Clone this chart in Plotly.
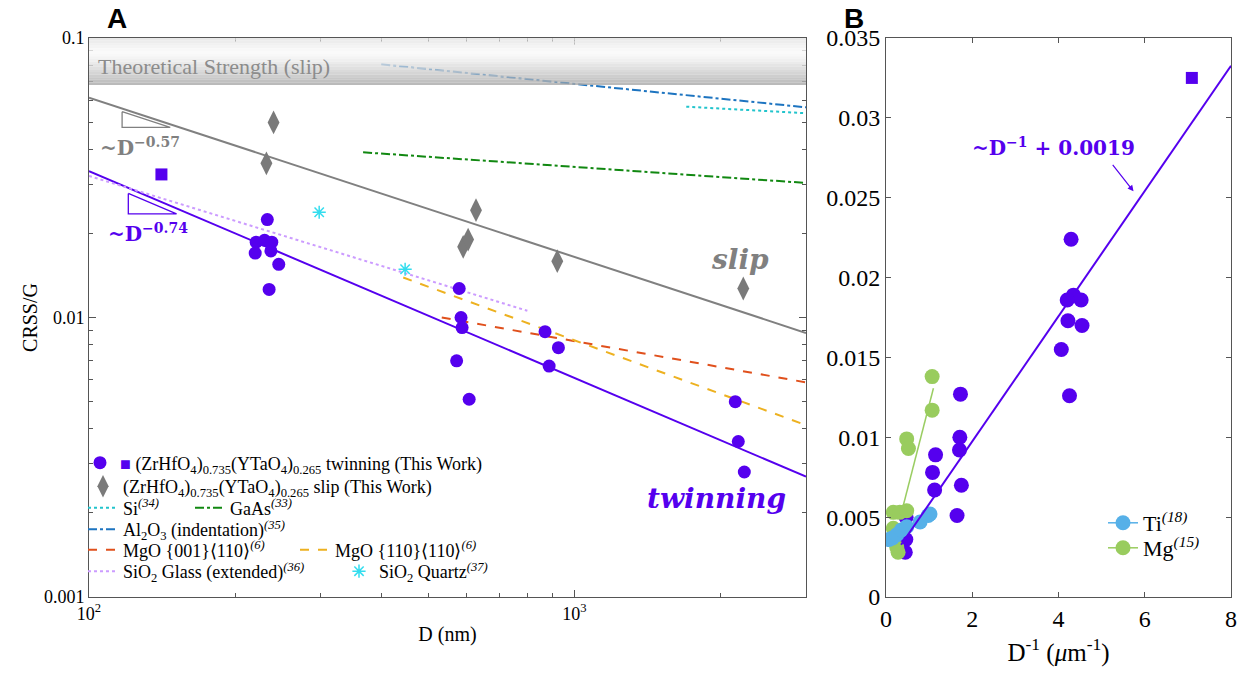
import numpy as np
import plotly.graph_objects as go

# page offset (browser default body margin) compensated so that the figure fills the window
OFF = 8
W, H = 1251 - OFF, 683 - OFF

# ---------------- Panel A data ----------------
# twinning (circles): grain size D (nm) and CRSS/G
twin_D = [233, 221, 230, 238, 220, 237, 246, 235,
          579, 584, 587, 572, 607,
          870, 927, 887,
          2145, 2176, 2239]
twin_crss = [0.0224, 0.0186, 0.0189, 0.0186, 0.0170, 0.0173, 0.0155, 0.0126,
             0.0127, 0.0100, 0.0092, 0.0070, 0.0051,
             0.0089, 0.0078, 0.0067,
             0.0050, 0.0036, 0.0028]
# twinning (square)
twin_sq_D = [141]
twin_sq_crss = [0.0325]
# slip (diamonds)
slip_D = [240, 232, 627, 590, 604, 922, 2228]
slip_crss = [0.0499, 0.0356, 0.0242, 0.0179, 0.0190, 0.0159, 0.0127]

# power-law fits: CRSS/G = A * (D/100)^n
twin_fit_A, twin_fit_n = 0.0334, -0.74
slip_fit_A, slip_fit_n = 0.0612, -0.57
fit_D = [100, 3000]

# literature trends (endpoints, D nm / CRSS/G)
si_D, si_crss = [1700, 3000], [0.0568, 0.0538]
gaas_D, gaas_crss = [367, 3000], [0.0390, 0.0303]
al2o3_D, al2o3_crss = [400, 3000], [0.0805, 0.0565]
mgo001_D, mgo001_crss = [533, 3000], [0.0100, 0.00586]
mgo110_D, mgo110_crss = [444, 3000], [0.0139, 0.00412]
glass_D, glass_crss = [100, 800], [0.0321, 0.01057]
quartz_D, quartz_crss = [298, 448], [0.0238, 0.01488]

# slope triangles (D0, D1, top CRSS)
tri_slip = (117, 147, 0.0545)
tri_twin = (120.5, 151.5, 0.0278)

# axis ticks
xA_major = [100, 1000]
xA_major_text = ["10<sup>2</sup>", "10<sup>3</sup>"]
xA_minor = [200, 300, 400, 500, 600, 700, 800, 900, 2000, 3000]
yA_major = [0.001, 0.01, 0.1]
yA_major_text = ["0.001", "0.01", "0.1"]
yA_minor = [0.002, 0.003, 0.004, 0.005, 0.006, 0.007, 0.008, 0.009,
            0.02, 0.03, 0.04, 0.05, 0.06, 0.07, 0.08, 0.09]
xB_ticks = [0, 2, 4, 6, 8]
yB_ticks = [0, 0.005, 0.01, 0.015, 0.02, 0.025, 0.03, 0.035]
yB_text = ["0", "0.005", "0.01", "0.015", "0.02", "0.025", "0.03", "0.035"]

# ---------------- Panel B data ----------------
twinB_x = [1000.0 / d for d in twin_D]
twinB_y = twin_crss
sqB_x = [1000.0 / d for d in twin_sq_D]
sqB_y = twin_sq_crss
fitB_slope, fitB_int = 0.00392, 0.0019
fitB_x = [0.35, 8.0]
ti_x = [0.07, 0.15, 0.25, 0.36, 0.48, 0.79, 0.98, 1.02]
ti_y = [0.0036, 0.0037, 0.0039, 0.0042, 0.0044, 0.0047, 0.0051, 0.0052]
mg_x = [1.07, 1.07, 0.48, 0.52, 0.17, 0.32, 0.48, 0.17, 0.25, 0.28]
mg_y = [0.0138, 0.0117, 0.0099, 0.0093, 0.0053, 0.0053, 0.0054, 0.0043, 0.0031, 0.0028]
mg_fit_slope, mg_fit_int = 0.0105, 0.00152
mg_fit_x = [0.36, 1.10]

PURPLE = "#5500EE"
GRAY = "#808080"
SERIF = "Liberation Serif"
MATH = "DejaVu Serif"

fig = go.Figure()


def pw(A, n, D):
    return [A * (d / 100.0) ** n for d in D]


# fits
fig.add_trace(go.Scatter(x=fit_D, y=pw(twin_fit_A, twin_fit_n, fit_D), mode="lines",
                         line=dict(color=PURPLE, width=2), showlegend=False, hoverinfo="skip"))
fig.add_trace(go.Scatter(x=fit_D, y=pw(slip_fit_A, slip_fit_n, fit_D), mode="lines",
                         line=dict(color=GRAY, width=2), showlegend=False, hoverinfo="skip"))

# slope triangles
for (d0, d1, y0), n, col in [(tri_slip, slip_fit_n, GRAY), (tri_twin, twin_fit_n, PURPLE)]:
    y1 = y0 * (d1 / d0) ** n
    fig.add_trace(go.Scatter(x=[d0, d0, d1, d0], y=[y0, y1, y1, y0], mode="lines",
                             line=dict(color=col, width=1.3), showlegend=False, hoverinfo="skip"))

# literature lines
fig.add_trace(go.Scatter(x=si_D, y=si_crss, mode="lines", name="Si<sup><i>(34)</i></sup>",
                         line=dict(color="#22C4CC", width=2, dash="dot"), legend="legend3"))
fig.add_trace(go.Scatter(x=gaas_D, y=gaas_crss, mode="lines", name="GaAs<sup><i>(33)</i></sup>",
                         line=dict(color="#118811", width=2, dash="dashdot"), legend="legend3"))
fig.add_trace(go.Scatter(x=al2o3_D, y=al2o3_crss, mode="lines",
                         name="Al<sub>2</sub>O<sub>3</sub> (indentation)<sup><i>(35)</i></sup>",
                         line=dict(color="#1D74C0", width=2, dash="dashdot"), legend="legend4"))
fig.add_trace(go.Scatter(x=mgo001_D, y=mgo001_crss, mode="lines",
                         name="MgO {001}⟨110⟩<sup><i>(6)</i></sup>",
                         line=dict(color="#E0501C", width=2, dash="dash"), legend="legend5"))
fig.add_trace(go.Scatter(x=mgo110_D, y=mgo110_crss, mode="lines",
                         name="MgO {110}⟨110⟩<sup><i>(6)</i></sup>",
                         line=dict(color="#EDB120", width=2, dash="dash"), legend="legend5"))
fig.add_trace(go.Scatter(x=glass_D, y=glass_crss, mode="lines",
                         name="SiO<sub>2</sub> Glass (extended)<sup><i>(36)</i></sup>",
                         line=dict(color="#CC9CFF", width=2, dash="dot"), legend="legend6"))
fig.add_trace(go.Scatter(x=quartz_D, y=quartz_crss, mode="markers",
                         name="SiO<sub>2</sub> Quartz<sup><i>(37)</i></sup>",
                         marker=dict(symbol="asterisk-open", size=11, color="#33DDEE",
                                     line=dict(color="#33DDEE", width=1.5)), legend="legend6"))

# this work points
fig.add_trace(go.Scatter(x=slip_D, y=slip_crss, mode="markers",
                         name="(ZrHfO<sub>4</sub>)<sub>0.735</sub>(YTaO<sub>4</sub>)<sub>0.265</sub> slip (This Work)",
                         marker=dict(symbol="diamond-tall", size=17, color="#7A7A7A"), legend="legend2"))
fig.add_trace(go.Scatter(x=twin_D, y=twin_crss, mode="markers",
                         name="<span style='color:#5500EE'>■</span> (ZrHfO<sub>4</sub>)<sub>0.735</sub>(YTaO<sub>4</sub>)<sub>0.265</sub> twinning (This Work)",
                         marker=dict(symbol="circle", size=13, color=PURPLE), legend="legend"))
fig.add_trace(go.Scatter(x=twin_sq_D, y=twin_sq_crss, mode="markers", showlegend=False,
                         marker=dict(symbol="square", size=12, color=PURPLE)))

# ---------------- Panel B traces ----------------
fig.add_trace(go.Scatter(x=mg_fit_x, y=[mg_fit_slope * v + mg_fit_int for v in mg_fit_x],
                         mode="lines", line=dict(color="#9ACD62", width=1.5),
                         xaxis="x2", yaxis="y2", showlegend=False, hoverinfo="skip"))
fig.add_trace(go.Scatter(x=twinB_x, y=twinB_y, mode="markers", xaxis="x2", yaxis="y2",
                         marker=dict(symbol="circle", size=15, color=PURPLE), showlegend=False))
fig.add_trace(go.Scatter(x=sqB_x, y=sqB_y, mode="markers", xaxis="x2", yaxis="y2",
                         marker=dict(symbol="square", size=12, color=PURPLE), showlegend=False))
fig.add_trace(go.Scatter(x=mg_x, y=mg_y, mode="markers", xaxis="x2", yaxis="y2",
                         name="Mg<sup><i>(15)</i></sup>", showlegend=False,
                         marker=dict(symbol="circle", size=15, color="#99CC5E")))
fig.add_trace(go.Scatter(x=ti_x, y=ti_y, mode="lines+markers", xaxis="x2", yaxis="y2",
                         name="Ti<sup><i>(18)</i></sup>",
                         marker=dict(symbol="circle", size=15, color="#56B0E8"),
                         line=dict(color="#56B0E8", width=1.5), legend="legend7"))
fig.add_trace(go.Scatter(x=fitB_x, y=[fitB_slope * v + fitB_int for v in fitB_x], mode="lines",
                         xaxis="x2", yaxis="y2", line=dict(color=PURPLE, width=2),
                         showlegend=False, hoverinfo="skip"))
# legend entry for Mg (marker + line look)
fig.add_trace(go.Scatter(x=[None], y=[None], mode="lines+markers", xaxis="x2", yaxis="y2",
                         name="Mg<sup><i>(15)</i></sup>",
                         marker=dict(symbol="circle", size=15, color="#99CC5E"),
                         line=dict(color="#99CC5E", width=1.5), legend="legend8"))

# ---------------- layout ----------------
def px(x):
    return (x - OFF) / W


def py(y):
    return 1 - (y - OFF) / H


ax_common = dict(showline=True, linecolor="#555555", linewidth=1, mirror="allticks",
                 ticks="inside", ticklen=7, tickcolor="#555555", showgrid=False, zeroline=False,
                 automargin=False)

# Theoretical strength band (gradient via strips)
shapes = []
band_bottom = (597 - 85) / 559.0
n = 18
for i in range(n):
    t0 = i / n
    t1 = (i + 1) / n
    tc = (t0 + t1) / 2  # 0 top, 1 bottom
    if tc < 0.3:
        g = 226 + (250 - 226) * tc / 0.3
    else:
        g = 250 - (250 - 165) * ((tc - 0.3) / 0.7) ** 1.3
    g = int(g)
    y_top = 1 - t0 * (1 - band_bottom)
    y_bot = 1 - t1 * (1 - band_bottom)
    shapes.append(dict(type="rect", xref="x domain", yref="y domain", x0=0, x1=1,
                       y0=y_bot, y1=y_top, fillcolor=f"rgb({g},{g},{g})",
                       line=dict(width=0), layer="above", opacity=0.8))

leg_font = dict(family=SERIF, size=18, color="black")
leg_base = dict(bgcolor="rgba(0,0,0,0)", borderwidth=0, font=leg_font, xanchor="left",
                yanchor="middle", itemwidth=30, tracegroupgap=0)
legB_font = dict(family=SERIF, size=22, color="black")

layout_legends = dict(
    legend=dict(leg_base, x=px(80), y=py(463)),
    legend2=dict(leg_base, x=px(83), y=py(486.5)),
    legend3=dict(leg_base, x=px(83), y=py(508), orientation="h", entrywidth=62),
    legend4=dict(leg_base, x=px(83), y=py(529.5)),
    legend5=dict(leg_base, x=px(83), y=py(550), orientation="h", entrywidth=167),
    legend6=dict(leg_base, x=px(83), y=py(571.5), orientation="h", entrywidth=211),
    legend7=dict(leg_base, x=px(1103), y=py(523), font=legB_font),
    legend8=dict(leg_base, x=px(1103), y=py(548), font=legB_font),
)


def note(text, x, y, size, color, family=MATH, xanchor="center"):
    return dict(text=text, x=px(x), y=py(y), xref="paper", yref="paper", showarrow=False,
                xanchor=xanchor, yanchor="middle", font=dict(family=family, size=size, color=color))


annotations = [
    note("<b>A</b>", 117, 19, 28, "black", "Liberation Sans"),
    note("<b>B</b>", 854, 19, 28, "black", "Liberation Sans"),
    note("Theoretical Strength (slip)", 96, 67, 22, "#8C8C8C", SERIF, "left"),
    note("<b>~D<sup>−0.57</sup></b>", 98, 147, 20, "#808080", MATH, "left"),
    note("<b>~D<sup>−0.74</sup></b>", 106, 233, 20, PURPLE, MATH, "left"),
    note("<b><i>slip</i></b>", 740, 260, 28, "#808080"),
    note("<b><i>twinning</i></b>", 716, 498, 28, PURPLE),
    note("<b>~D<sup>−1</sup> + 0.0019</b>", 1053, 147, 20, PURPLE),
    dict(text="", x=5.74, y=0.0254, xref="x2", yref="y2", showarrow=True, arrowhead=2,
         arrowsize=1, arrowwidth=1.2, arrowcolor=PURPLE, ax=-22, ay=-28),
]

fig.update_layout(
    width=W, height=H, margin=dict(l=0, r=0, t=0, b=0, autoexpand=False),
    paper_bgcolor="white", plot_bgcolor="white",
    shapes=shapes, annotations=annotations,
    xaxis=dict(ax_common, type="log", range=[2, np.log10(3000)], domain=[px(89), px(806)],
               tickmode="array", tickvals=xA_major, ticktext=xA_major_text,
               minor=dict(ticks="inside", ticklen=4, tickcolor="#555555", showgrid=False,
                          tickmode="array", tickvals=xA_minor),
               tickfont=dict(family=SERIF, size=18, color="black"),
               title=dict(text="D (nm)", font=dict(family=SERIF, size=20, color="black"), standoff=4),
               anchor="y"),
    yaxis=dict(ax_common, type="log", range=[-3, -1], domain=[py(597), py(38)],
               tickmode="array", tickvals=yA_major, ticktext=yA_major_text,
               minor=dict(ticks="inside", ticklen=4, tickcolor="#555555", showgrid=False,
                          tickmode="array", tickvals=yA_minor),
               tickfont=dict(family=SERIF, size=18, color="black"),
               title=dict(text="CRSS/G", font=dict(family=SERIF, size=20, color="black"), standoff=0),
               anchor="x"),
    xaxis2=dict(ax_common, range=[0, 8], domain=[px(886), px(1231)], tickmode="array",
                tickvals=xB_ticks, ticklen=5, tickfont=dict(family=SERIF, size=24, color="black"),
                title=dict(text="D<sup>-1</sup> (<i>μ</i>m<sup>-1</sup>)",
                           font=dict(family=SERIF, size=25, color="black"), standoff=12),
                anchor="y2"),
    yaxis2=dict(ax_common, range=[0, 0.035], domain=[py(597), py(38)], tickmode="array",
                tickvals=yB_ticks, ticktext=yB_text,
                ticklen=5, tickfont=dict(family=SERIF, size=24, color="black"), anchor="x2"),
    **layout_legends,
)

fig.write_html("out.html")
